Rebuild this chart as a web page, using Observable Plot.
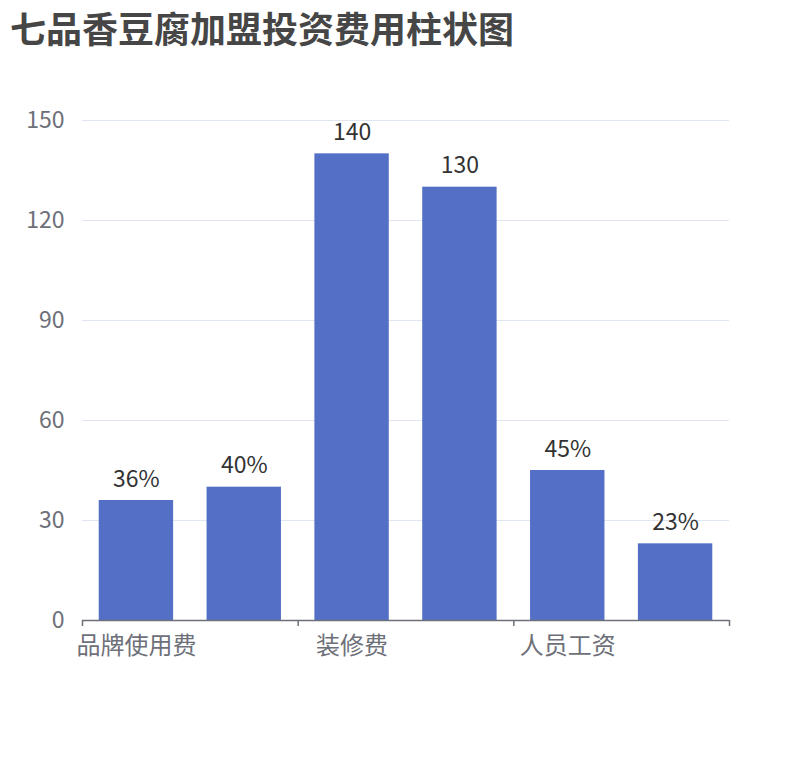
<!DOCTYPE html>
<html>
<head>
<meta charset="utf-8">
<script src="https://cdn.jsdelivr.net/npm/d3@7"></script>
<script src="https://cdn.jsdelivr.net/npm/@observablehq/plot@0.6"></script>
<style>
  html, body { margin: 0; padding: 0; background: #fff; }
  body { width: 810px; height: 760px; overflow: hidden; font-family: "Noto Sans CJK SC", "Noto Sans", sans-serif; }
  #title { height: 60px; box-sizing: border-box; padding: 2px 0 0 10px; font-size: 36px; font-weight: bold; color: #464646; line-height: 50px; }
</style>
</head>
<body>
<div id="title">七品香豆腐加盟投资费用柱状图</div>
<div id="chart"></div>
<script>
const categories = ["品牌使用费", "类目2", "装修费", "类目4", "人员工资", "类目6"];
const values = [36, 40, 140, 130, 45, 23];
const valueLabels = ["36%", "40%", "140", "130", "45%", "23%"];
const shownLabels = ["品牌使用费", "装修费", "人员工资"];
const yTicks = [0, 30, 60, 90, 120, 150];

const data = categories.map((c, i) => ({category: c, value: values[i], label: valueLabels[i]}));

const width = 810, height = 700;
const marginLeft = 82, marginRight = 81, marginTop = 60, marginBottom = 140;
const step = (width - marginLeft - marginRight) / categories.length;
const boundaryLeft = categories.filter((c, i) => i % 2 === 0);
const lastCat = [categories[categories.length - 1]];

const chart = Plot.plot({
  width, height, marginLeft, marginRight, marginTop, marginBottom,
  style: {fontFamily: '"Noto Sans CJK SC", "Noto Sans", sans-serif', fontSize: "22px", background: "#fff"},
  x: {domain: categories, paddingInner: 0.31, paddingOuter: 0.155, round: false, axis: null},
  y: {domain: [0, 150], axis: null},
  marks: [
    Plot.gridY(yTicks, {stroke: "#E0E6F1", strokeOpacity: 1, strokeWidth: 1}),
    Plot.axisY(yTicks, {tickSize: 0, tickPadding: 18, fill: "#6E7079", fontSize: 23, label: null}),
    Plot.barY(data, {x: "category", y: "value", fill: "#5470C6"}),
    Plot.text(data, {x: "category", y: "value", text: "label", lineAnchor: "bottom", dy: -14, fill: "#333", fontSize: 23}),
    Plot.ruleY([0], {stroke: "#6E7079", strokeWidth: 1.5}),
    Plot.axisX(boundaryLeft, {tickSize: 6, dx: -step / 2, tickFormat: () => "", stroke: "#6E7079", strokeWidth: 1.5, label: null}),
    Plot.axisX(lastCat, {tickSize: 6, dx: step / 2, tickFormat: () => "", stroke: "#6E7079", strokeWidth: 1.5, label: null}),
    Plot.axisX(shownLabels, {tickSize: 0, tickPadding: 16, fill: "#6E7079", fontSize: 24, label: null})
  ]
});
document.getElementById("chart").appendChild(chart);
</script>
</body>
</html>
